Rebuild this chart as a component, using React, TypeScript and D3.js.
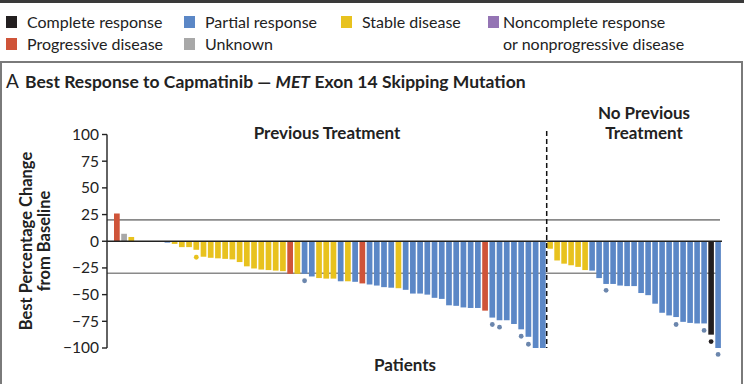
import React from 'react';
import * as d3 from 'd3';

// ---------- data ----------
const responseTypes = ['CR', 'PR', 'SD', 'NN', 'PD', 'UN'];
const responseLabels = ['Complete response', 'Partial response', 'Stable disease', 'Noncomplete response|or nonprogressive disease', 'Progressive disease', 'Unknown'];
const responseColors = ['#231f20', '#5b87c6', '#e8c21e', '#9474b4', '#cf5439', '#a8a8a8'];

const prevValues = [26, 7, 4, -0.2, -0.3, -0.5, -0.7, -1.3, -2.5, -5.5, -5.5, -8, -14.5, -15.5, -16, -16.5, -17, -19.5, -23.5, -25.5,
  -26.5, -27, -27.5, -28, -30.5, -30.5, -30.5, -33, -34.5, -35, -35, -37.5, -37.5, -38, -39.5, -40.5, -41.5, -43, -43.5, -44,
  -45.5, -49, -49, -50, -53, -54, -60, -60.5, -62, -62.5, -62.5, -65, -71.5, -74, -74, -77.5, -82.5, -89.5, -100, -100];
const prevResponses = ['PD', 'UN', 'SD', 'SD', 'SD', 'SD', 'SD', 'PR', 'SD', 'SD', 'SD', 'SD', 'SD', 'SD', 'SD', 'SD', 'SD', 'SD', 'SD', 'SD',
  'SD', 'SD', 'SD', 'SD', 'PD', 'SD', 'PR', 'PR', 'SD', 'SD', 'SD', 'PR', 'SD', 'PR', 'PD', 'PR', 'PR', 'PR', 'PR', 'SD',
  'PR', 'PR', 'PR', 'PR', 'PR', 'PR', 'PR', 'PR', 'PR', 'PR', 'PR', 'PD', 'PR', 'PR', 'PR', 'PR', 'PR', 'PR', 'PR', 'PR'];
const prevDotPatients = [11, 26, 52, 53, 56, 57];
const prevDotValues = [-15, -37, -78, -80.5, -89, -96.5];

const naiveValues = [-7, -18, -21, -22.5, -24, -27, -27.5, -34.5, -40, -40, -41.5, -42, -42, -48.5, -50.5, -58.5, -67, -69.5, -71,
  -75.5, -76.5, -77, -77, -87.5, -100];
const naiveResponses = ['SD', 'SD', 'SD', 'SD', 'SD', 'SD', 'PR', 'PR', 'PR', 'PR', 'PR', 'PR', 'PR', 'PR', 'PR', 'PR', 'PR', 'PR', 'PR',
  'PR', 'PR', 'PR', 'PR', 'CR', 'PR'];
const naiveDotPatients = [8, 18, 22, 23, 24];
const naiveDotValues = [-46, -78, -83.5, -94, -106];

const yTicks = [100, 75, 50, 25, 0, -25, -50, -75, -100];
const refLines = [20, -30];

// ---------- component ----------
const FONT = 'Lato, "Open Sans", "Noto Sans", sans-serif';

export default function App() {
  const W = 744, H = 384;
  const y = d3.scaleLinear().domain([-100, 100]).range([348, 134.5]);
  const xPrev = d3.scaleBand<number>().domain(d3.range(prevValues.length)).range([113.25, 546.45]).paddingInner(0.21).paddingOuter(0.105);
  const xNaive = d3.scaleBand<number>().domain(d3.range(naiveValues.length)).range([546.6, 721.6]).paddingInner(0.2).paddingOuter(0.1);
  const color = d3.scaleOrdinal<string, string>().domain(responseTypes).range(responseColors);
  const dotColor = (r: string) => (r === 'PR' ? '#6b86ad' : color(r));
  const axisX = 107;
  const y0 = y(0);
  const fmt = (v: number) => (v < 0 ? '\u2212' + Math.abs(v) : String(v));

  const legendPos = [
    { x: 6, y: 22 }, { x: 184, y: 22 }, { x: 341, y: 22 }, { x: 488, y: 22 }, { x: 6, y: 44 }, { x: 184, y: 44 },
  ];

  const bars = (vals: number[], resp: string[], xs: d3.ScaleBand<number>, key: string) =>
    vals.map((v, i) => (
      <rect key={key + i} x={xs(i)} width={xs.bandwidth()} y={Math.min(y(v), y0)} height={Math.max(0.6, Math.abs(y(v) - y0))} fill={color(resp[i])} />
    ));
  const dots = (idx: number[], vals: number[], resp: string[], xs: d3.ScaleBand<number>, key: string) =>
    idx.map((p, k) => (
      <circle key={key + k} cx={(xs(p) as number) + xs.bandwidth() / 2} cy={y(vals[k])} r={2.4} fill={dotColor(resp[p])} />
    ));

  return (
    <svg width={W} height={H} style={{ position: 'absolute', left: 0, top: 0, background: '#fff' }} fontFamily={FONT}>
      <rect x={0} y={0} width={W} height={H} fill="#fff" />
      <rect x={0} y={0} width={W} height={3} fill="#3a3a3a" />
      {/* legend */}
      {responseTypes.map((t, i) => {
        const p = legendPos[i];
        const lines = responseLabels[i].split('|');
        return (
          <g key={t}>
            <rect x={p.x} y={p.y - 6} width={11} height={12} fill={color(t)} />
            {lines.map((l, j) => (
              <text key={j} x={p.x + (i === 3 ? 15 : 21)} y={p.y + 5.5 + j * 22} fontSize={16} fill="#222">{l}</text>
            ))}
          </g>
        );
      })}
      {/* panel border */}
      <path d={`M1,${H} V62 H742 V${H}`} fill="none" stroke="#7a7a7a" strokeWidth={2} />
      {/* title */}
      <text x={6} y={88} fontSize={19} fill="#222">A</text>
      <text x={25} y={88} fontSize={17.5} fontWeight="bold" fill="#222">
        Best Response to Capmatinib — <tspan fontStyle="italic">MET</tspan> Exon 14 Skipping Mutation
      </text>
      {/* reference lines */}
      {refLines.map((r) => (
        <line key={r} x1={axisX} x2={720} y1={y(r)} y2={y(r)} stroke="#8a8a8a" strokeWidth={1.6} />
      ))}
      {/* bars */}
      {bars(prevValues, prevResponses, xPrev, 'p')}
      {bars(naiveValues, naiveResponses, xNaive, 'n')}
      {dots(prevDotPatients, prevDotValues, prevResponses, xPrev, 'pd')}
      {dots(naiveDotPatients, naiveDotValues, naiveResponses, xNaive, 'nd')}
      {/* zero line */}
      <line x1={axisX} x2={722} y1={y0} y2={y0} stroke="#222" strokeWidth={1.6} />
      {/* dashed divider */}
      <line x1={546.7} x2={546.7} y1={131} y2={y(-100)} stroke="#111" strokeWidth={1.5} strokeDasharray="5,3" />
      {/* y axis */}
      <line x1={axisX} x2={axisX} y1={y(100)} y2={y(-100)} stroke="#222" strokeWidth={1.4} />
      {yTicks.map((t) => (
        <g key={t}>
          <line x1={axisX - 5} x2={axisX} y1={y(t)} y2={y(t)} stroke="#222" strokeWidth={1.4} />
          <text x={axisX - 8} y={y(t)} dy="0.35em" textAnchor="end" fontSize={15.5} fill="#222">{fmt(t)}</text>
        </g>
      ))}
      <text transform={`translate(32,241) rotate(-90)`} textAnchor="middle" fontSize={16.5} fontWeight="bold" fill="#222">Best Percentage Change</text>
      <text transform={`translate(50,241) rotate(-90)`} textAnchor="middle" fontSize={16.5} fontWeight="bold" fill="#222">from Baseline</text>
      {/* group labels */}
      <text x={327} y={139} textAnchor="middle" fontSize={17} fontWeight="bold" fill="#222">Previous Treatment</text>
      <text x={644} y={119} textAnchor="middle" fontSize={17} fontWeight="bold" fill="#222">No Previous</text>
      <text x={644} y={139} textAnchor="middle" fontSize={17} fontWeight="bold" fill="#222">Treatment</text>
      <text x={405} y={371} textAnchor="middle" fontSize={17} fontWeight="bold" fill="#222">Patients</text>
    </svg>
  );
}
